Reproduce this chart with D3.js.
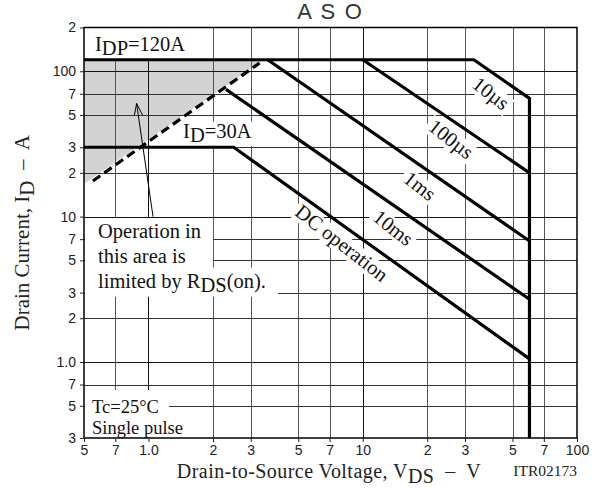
<!DOCTYPE html>
<html>
<head>
<meta charset="utf-8">
<script src="https://cdn.jsdelivr.net/npm/d3@7"></script>
<style>
  body { margin: 0; background: #fff; }
  svg { display: block; }
</style>
</head>
<body>
<div class="holder"></div>
<script>
"use strict";

// axis ticks (log scales)
const xTickValues = [0.5, 0.7, 1, 2, 3, 5, 7, 10, 20, 30, 50, 70, 100];
const xTickLabels = ["5", "7", "1.0", "2", "3", "5", "7", "10", "2", "3", "5", "7", "100"];
const yTickValues = [0.3, 0.5, 0.7, 1, 2, 3, 5, 7, 10, 20, 30, 50, 70, 100, 200];
const yTickLabels = ["3", "5", "7", "1.0", "2", "3", "5", "7", "10", "2", "3", "5", "7", "100", "2"];

// curves, [VDS (V), ID (A)]
const pulse10us = [[0.5, 120], [33, 120], [60, 65], [60, 0.3]];
const pulse100us = [[10, 120], [60, 20]];
const pulse1ms = [[3.6, 120], [60, 6.8]];
const pulse10ms = [[2.3, 75], [60, 2.7]];
const dcOperation = [[0.5, 30], [2.5, 30], [60, 1.05]];
const rdsLimit = [[0.55, 17.6], [3.3, 114]];
const rdsArea = [[0.5, 120], [3.45, 120], [0.5, 16.8]];

const curveLabels = ["10µs", "100µs", "1ms", "10ms", "DC operation"];
const curveLabelAt = [[39.7, 70.7], [25.9, 34.2], [18.5, 16.3], [13.9, 8.4], [8.0, 6.6]];
const idLabelAt = [1.45, 30];
const arrowFrom = [1.05, 10];
const arrowTo = [0.88, 60];

const opLines = [
  [["Operation in", 0]],
  [["this area is", 0]],
  [["limited by R", 0], ["DS", 4], ["(on).", 0]]
];
const condLines = [[["Tc=25°C", 0]], [["Single pulse", 0]]];

const w = 604;
const h = 488;
const margin = { top: 27.5, right: 27, bottom: 50, left: 84 };
const x0 = margin.left;
const x1 = w - margin.right;
const yTop = margin.top;
const yBottom = h - margin.bottom;

const x = d3.scaleLog().domain([0.5, 100]).range([x0, x1]);
const y = d3.scaleLog().domain([0.3, 200]).range([yBottom, yTop]);

const isDecade = (d) => Math.abs(Math.log10(d) - Math.round(Math.log10(d))) < 1e-9;
const crisp = (v) => Math.round(v) + 0.5;

const svgHolder = d3
  .select(".holder")
  .append("svg")
  .attr("width", w)
  .attr("height", h)
  .style("font-family", "'Liberation Serif', 'Times New Roman', serif");

const line = d3
  .line()
  .x((d) => x(d[0]))
  .y((d) => y(d[1]));

// shaded RDS(on) area
svgHolder
  .append("path")
  .attr("d", line(rdsArea) + "Z")
  .attr("fill", "#d3d3d3");

// grid
const grid = svgHolder.append("g");
grid
  .selectAll(".vgrid")
  .data(xTickValues.slice(1, -1))
  .enter()
  .append("line")
  .attr("x1", (d) => crisp(x(d)))
  .attr("x2", (d) => crisp(x(d)))
  .attr("y1", yTop)
  .attr("y2", yBottom)
  .attr("stroke", (d) => (isDecade(d) ? "#111" : "#555"))
  .attr("stroke-width", 1);
grid
  .selectAll(".hgrid")
  .data(yTickValues.slice(1, -1))
  .enter()
  .append("line")
  .attr("x1", x0)
  .attr("x2", x1)
  .attr("y1", (d) => crisp(y(d)))
  .attr("y2", (d) => crisp(y(d)))
  .attr("stroke", (d) => (isDecade(d) ? "#111" : "#333"))
  .attr("stroke-width", 1);

const knock = svgHolder.append("g");
const curves = svgHolder.append("g");

// frame
svgHolder
  .append("rect")
  .attr("x", x0)
  .attr("y", yTop)
  .attr("width", x1 - x0)
  .attr("height", yBottom - yTop)
  .attr("fill", "none")
  .attr("stroke", "#000")
  .attr("stroke-width", 1.5);

const notes = svgHolder.append("g").attr("font-size", 20.5).attr("fill", "#111");

function richText(g, px, py, parts) {
  const t = g
    .append("text")
    .attr("x", px)
    .attr("y", py)
    .style("white-space", "pre");
  let shift = 0;
  parts.forEach((p) => {
    t.append("tspan").attr("dy", p[1] - shift).text(p[0]);
    shift = p[1];
  });
  return t;
}

function whiteBox(left, top, right, bottom) {
  knock
    .append("rect")
    .attr("x", left)
    .attr("y", top)
    .attr("width", right - left)
    .attr("height", bottom - top)
    .attr("fill", "#fff");
}

// curves
[pulse10us, pulse100us, pulse1ms, pulse10ms, dcOperation].forEach((c) => {
  curves
    .append("path")
    .attr("d", line(c))
    .attr("fill", "none")
    .attr("stroke", "#000")
    .attr("stroke-width", 3.2)
    .attr("stroke-linejoin", "miter");
});
curves
  .append("path")
  .attr("d", line(rdsLimit))
  .attr("fill", "none")
  .attr("stroke", "#000")
  .attr("stroke-width", 3.2)
  .attr("stroke-dasharray", "9,5");

// IDP label
const idp = richText(notes, x0 + 11, y(120) - 8.5, [["I", 0], ["DP", 4], ["=120A", 0]]);
let b = idp.node().getBBox();
whiteBox(x0, yTop, b.x + b.width + 12, y(120));

// ID label
const idLbl = richText(notes, x(idLabelAt[0]), y(idLabelAt[1]) - 9.5, [["I", 0], ["D", 4], ["=30A", 0]]);
b = idLbl.node().getBBox();
whiteBox(b.x - 3, b.y + 2, b.x + b.width + 3, b.y + b.height);

// operation note
const opTop = y(10) + 21;
const opBoxes = opLines.map((parts, i) =>
  richText(notes, x0 + 14, opTop + i * 25, parts).node().getBBox()
);
const r12 = Math.max(opBoxes[0].x + opBoxes[0].width, opBoxes[1].x + opBoxes[1].width) + 12;
whiteBox(x0 + 1, y(10) + 1.5, r12, opTop + 25 + 6);
whiteBox(x0 + 1, opTop + 25 + 5, opBoxes[2].x + opBoxes[2].width + 12, opBoxes[2].y + opBoxes[2].height + 1);

// conditions note
const cBase = yBottom - 25;
const condGroup = notes.append("g").attr("font-size", 18.5);
const cBoxes = condLines.map((parts, i) =>
  richText(condGroup, x0 + 8, cBase + i * 20.5, parts).node().getBBox()
);
whiteBox(x0 + 1, cBase - 23, cBoxes[0].x + cBoxes[0].width + 10, yBottom);
whiteBox(x0 + 1, cBase + 3, cBoxes[1].x + cBoxes[1].width + 8, yBottom);

// curve labels along the lines
const angle = 38;
curveLabels.forEach((label, i) => {
  const tf = `translate(${x(curveLabelAt[i][0])},${y(curveLabelAt[i][1])}) rotate(${angle})`;
  const t = notes
    .append("text")
    .attr("transform", tf)
    .attr("text-anchor", "middle")
    .attr("dy", "0.35em")
    .text(label);
  const bb = t.node().getBBox();
  knock
    .append("rect")
    .attr("transform", tf)
    .attr("x", bb.x - 3)
    .attr("y", bb.y + 2)
    .attr("width", bb.width + 6)
    .attr("height", bb.height - 3)
    .attr("fill", "#fff");
});

// arrow
const ax1 = x(arrowFrom[0]);
const ay1 = y(arrowFrom[1]);
const ax2 = x(arrowTo[0]);
const ay2 = y(arrowTo[1]);
const ang = Math.atan2(ay2 - ay1, ax2 - ax1);
const headLen = 13;
const spread = 0.33;
notes
  .append("path")
  .attr(
    "d",
    `M${ax1},${ay1}L${ax2},${ay2}` +
      `M${ax2 - headLen * Math.cos(ang - spread)},${ay2 - headLen * Math.sin(ang - spread)}` +
      `L${ax2},${ay2}` +
      `L${ax2 - headLen * Math.cos(ang + spread)},${ay2 - headLen * Math.sin(ang + spread)}`
  )
  .attr("fill", "none")
  .attr("stroke", "#000")
  .attr("stroke-width", 1);

// axes
const yAxis = d3
  .axisLeft(y)
  .tickValues(yTickValues)
  .tickSize(4)
  .tickPadding(4)
  .tickFormat((d, i) => yTickLabels[i]);
svgHolder
  .append("g")
  .attr("transform", `translate(${x0},0)`)
  .call(yAxis)
  .call((g) => g.select(".domain").remove())
  .attr("font-family", "'Liberation Sans', Arial, sans-serif")
  .attr("font-size", 14)
  .style("color", "#222");

const xAxis = d3
  .axisBottom(x)
  .tickValues(xTickValues)
  .tickSize(4)
  .tickPadding(3)
  .tickFormat((d, i) => xTickLabels[i]);
svgHolder
  .append("g")
  .attr("transform", `translate(0,${yBottom})`)
  .call(xAxis)
  .call((g) => g.select(".domain").remove())
  .call((g) =>
    g
      .selectAll(".tick text")
      .filter((d) => isDecade(d))
      .attr("y", 7.5)
  )
  .attr("font-family", "'Liberation Sans', Arial, sans-serif")
  .attr("font-size", 14)
  .style("color", "#222");

// titles
svgHolder
  .append("text")
  .attr("x", (x0 + x1) / 2)
  .attr("y", 18.5)
  .attr("text-anchor", "middle")
  .attr("font-family", "'Liberation Sans', Arial, sans-serif")
  .attr("font-size", 22)
  .attr("letter-spacing", 1.8)
  .attr("fill", "#333")
  .text("A S O");

const yTitle = svgHolder
  .append("text")
  .attr("transform", `translate(29,${(yTop + yBottom) / 2}) rotate(-90)`)
  .attr("text-anchor", "middle")
  .attr("font-size", 21)
  .attr("fill", "#222")
  .style("white-space", "pre");
yTitle.append("tspan").text("Drain Current, I");
yTitle.append("tspan").attr("dy", 5).text("D");
yTitle.append("tspan").attr("dy", -5).text("  –  A");

const xTitle = svgHolder
  .append("text")
  .attr("x", 329)
  .attr("y", 477.5)
  .attr("text-anchor", "middle")
  .attr("font-size", 20)
  .attr("letter-spacing", 0.45)
  .attr("fill", "#222")
  .style("white-space", "pre");
xTitle.append("tspan").text("Drain-to-Source Voltage, V");
xTitle.append("tspan").attr("dy", 5).text("DS");
xTitle.append("tspan").attr("dy", -5).text("  –  V");

svgHolder
  .append("text")
  .attr("x", x1)
  .attr("y", 476)
  .attr("text-anchor", "end")
  .attr("font-size", 15.5)
  .attr("fill", "#222")
  .text("ITR02173");
</script>
</body>
</html>
